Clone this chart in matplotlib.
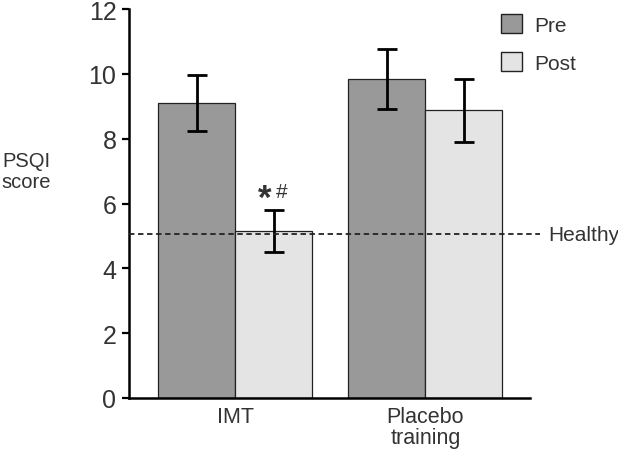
import matplotlib.pyplot as plt
from matplotlib.patches import Patch

plt.rcParams['font.family'] = ['Liberation Sans', 'DejaVu Sans']

grupos = ["IMT", "Placebo\ntraining"]
pre = [9.1, 9.85]
post = [5.15, 8.87]
pre_err = [0.86, 0.93]
post_err = [0.66, 0.97]
healthy = 5.05

color_pre = '#999999'
color_post = '#e4e4e4'
texto = '#333333'

fig = plt.figure(figsize=(6.18, 4.56), dpi=100)
ax = fig.add_axes([0.2087, 0.125, 0.649, 0.853])

ancho = 1.0
centros = [1.0, 3.47]
x_pre = [c - 0.5 for c in centros]
x_post = [c + 0.5 for c in centros]

ax.bar(x_pre, pre, width=ancho, color=color_pre, edgecolor='#222222', linewidth=0.9, zorder=2)
ax.bar(x_post, post, width=ancho, color=color_post, edgecolor='#222222', linewidth=0.9, zorder=2)
ax.errorbar(x_pre, pre, yerr=pre_err, fmt='none', ecolor='black', elinewidth=2,
            capsize=7, capthick=2, zorder=3)
ax.errorbar(x_post, post, yerr=post_err, fmt='none', ecolor='black', elinewidth=2,
            capsize=7, capthick=2, zorder=3)

# linea de referencia
ax.plot([-0.38, 4.96], [healthy, healthy], linestyle=(0, (3, 2)), color='#222222',
        linewidth=1.3, clip_on=False, zorder=4)
ax.text(5.06, healthy, "Healthy", fontsize=15, color=texto, va='center', ha='left')

# significancia
ax.text(x_post[0] - 0.12, 6.15, "*", fontsize=25, fontweight='bold', color=texto,
        ha='center', va='center')
ax.text(x_post[0] + 0.1, 6.38, "#", fontsize=15, color=texto, ha='center', va='center')

ax.set_xlim(-0.38, 4.83)
ax.set_ylim(0, 12)
ax.set_yticks(range(0, 13, 2))
ax.tick_params(axis='y', labelsize=18, labelcolor=texto, width=1.6, length=5, pad=4)
ax.set_xticks(centros)
ax.set_xticklabels(grupos, fontsize=15.5, color=texto, linespacing=1.0, va='top')
ax.tick_params(axis='x', length=0, pad=6)
for lado in ['top', 'right']:
    ax.spines[lado].set_visible(False)
for lado in ['left', 'bottom']:
    ax.spines[lado].set_linewidth(1.8)

fig.text(0.042, 0.623, "PSQI\nscore", fontsize=14.5, color=texto, ha='center', va='center',
         linespacing=1.1)

handles = [Patch(facecolor=color_pre, edgecolor='#222222', label='Pre'),
           Patch(facecolor=color_post, edgecolor='#222222', label='Post')]
ax.legend(handles=handles, loc='upper left', bbox_to_anchor=(0.88, 1.035), frameon=False,
          fontsize=15, handlelength=1.0, handleheight=1.0, labelspacing=0.85,
          handletextpad=0.6, labelcolor=texto)

fig.savefig('out.png', dpi=100)
